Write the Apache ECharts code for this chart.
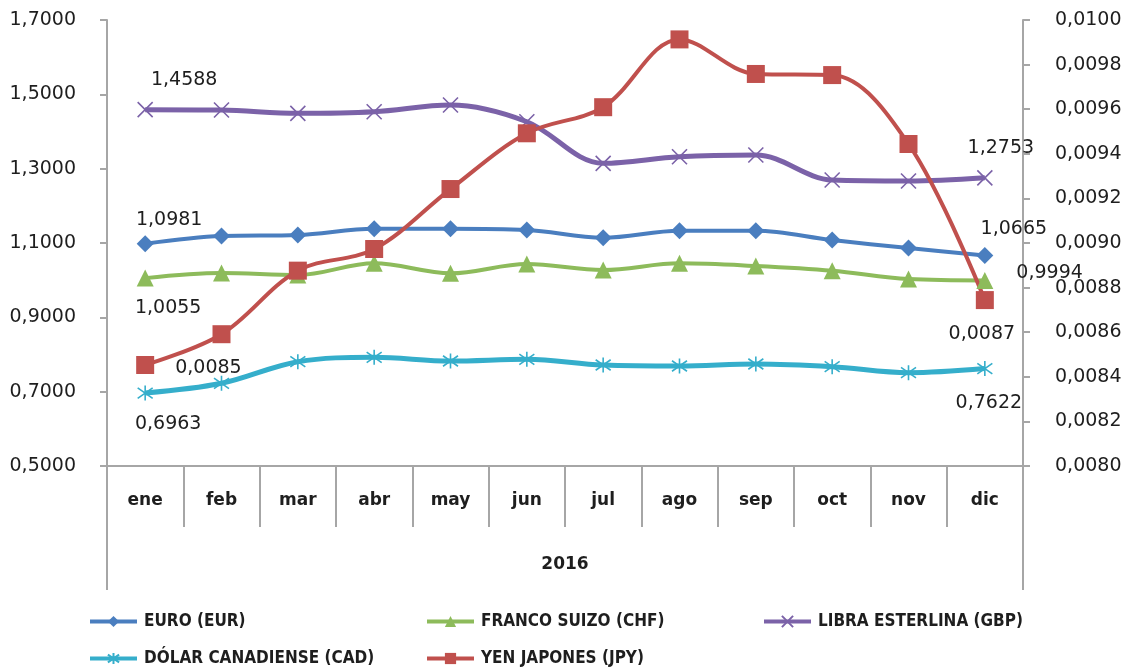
<!DOCTYPE html>
<html>
<head>
<meta charset="utf-8">
<script src="https://cdn.jsdelivr.net/npm/echarts@6/dist/echarts.min.js"></script>
<style>
  html, body { margin: 0; padding: 0; background: #fff; }
  #main { width: 1136px; height: 669px; }
</style>
</head>
<body>
<div id="main"></div>
<script>
// meses 2016
const meses = ['ene', 'feb', 'mar', 'abr', 'may', 'jun', 'jul', 'ago', 'sep', 'oct', 'nov', 'dic'];
// eje izquierdo
const eur = [1.0981, 1.1188, 1.1215, 1.1384, 1.1384, 1.1349, 1.1142, 1.1330, 1.1330, 1.1080, 1.0865, 1.0665];
const chf = [1.0055, 1.0192, 1.0138, 1.0453, 1.0184, 1.0435, 1.0273, 1.0453, 1.0381, 1.0254, 1.0030, 0.9994];
const gbp = [1.4588, 1.4578, 1.4489, 1.4532, 1.4712, 1.4263, 1.3144, 1.3321, 1.3367, 1.2694, 1.2667, 1.2753];
const cad = [0.6963, 0.7225, 0.7806, 0.7924, 0.7825, 0.7871, 0.7717, 0.7690, 0.7744, 0.7672, 0.7510, 0.7622];
// eje derecho
const jpy = [0.008453, 0.008591, 0.008876, 0.008973, 0.009242, 0.009492, 0.009609, 0.009913, 0.009758, 0.009753, 0.009444, 0.008744];

const G = { left: 107, right: 113, top: 20, bottom: 203 };
const W = 1136, H = 669;
const txt = '#1e1e1e';
const axisGrey = '#A6A6A6';

function fmt(v) {
    return Number(v).toFixed(4).replace('.', ',');
}

// etiqueta solo en el primer y el ultimo punto
function withLabels(values, first, last) {
    return values.map((v, i) => {
        if (i === 0) return { value: v, label: Object.assign({ show: true }, first) };
        if (i === values.length - 1) return { value: v, label: Object.assign({ show: true }, last) };
        return v;
    });
}

const labelBase = {
    show: false,
    color: txt,
    fontFamily: 'DejaVu Sans',
    fontSize: 19,
    formatter: p => fmt(p.value)
};

function serie(name, data, color, symbol, size, width, yIndex, extra) {
    return Object.assign({
        name: name,
        type: 'line',
        yAxisIndex: yIndex,
        smooth: 0.35,
        data: data,
        symbol: symbol,
        symbolSize: size,
        lineStyle: { color: color, width: width },
        itemStyle: { color: color },
        label: labelBase
    }, extra || {});
}

const crossPath = 'path://M0,0L10,10M10,0L0,10';
const starPath = 'path://M5,0L5,10M0,1.5L10,8.5M10,1.5L0,8.5';

const series = [
    serie('EURO (EUR)', withLabels(eur,
        { position: 'top', distance: 6, offset: [24, 0] },
        { position: 'top', distance: 8, offset: [29, 0] }),
        '#4A7EBF', 'diamond', 17, 4, 0),
    serie('FRANCO SUIZO (CHF)', withLabels(chf,
        { position: 'bottom', distance: 12, offset: [23, 0] },
        { position: 'right', distance: 23, offset: [0, -7] }),
        '#8DBB5B', 'triangle', 17, 4, 0),
    serie('LIBRA ESTERLINA (GBP)', withLabels(gbp,
        { position: 'top', distance: 12, offset: [39, 0] },
        { position: 'top', distance: 12, offset: [16, 0] }),
        '#7B62A8', crossPath, 15, 5, 0,
        { itemStyle: { color: '#7B62A8', borderColor: '#7B62A8', borderWidth: 1.6 } }),
    serie('DÓLAR CANADIENSE (CAD)', withLabels(cad,
        { position: 'bottom', distance: 13, offset: [23, 0] },
        { position: 'bottom', distance: 17, offset: [4, 0] }),
        '#35AECB', starPath, 15, 5, 0,
        { itemStyle: { color: '#35AECB', borderColor: '#35AECB', borderWidth: 1.6 } }),
    serie('YEN JAPONES (JPY)', withLabels(jpy,
        { position: 'right', distance: 21, offset: [0, 3] },
        { position: 'bottom', distance: 15, offset: [-3, 0] }),
        '#C0504D', 'rect', 18, 4, 1)
];

const legendPos = [
    { left: 88, top: 613 },
    { left: 425, top: 613 },
    { left: 762, top: 613 },
    { left: 88, top: 650 },
    { left: 425, top: 650 }
];

const legends = series.map((s, i) => ({
    data: [s.name],
    left: legendPos[i].left,
    top: legendPos[i].top,
    padding: 0,
    itemWidth: 47,
    itemHeight: 14,
    itemGap: 7,
    lineStyle: { width: 4 },
    textStyle: {
        color: txt,
        fontFamily: 'DejaVu Sans Condensed',
        fontWeight: 'bold',
        fontSize: 17,
        padding: [0, 0, 0, 2]
    }
}));

const chart = echarts.init(document.getElementById('main'));
chart.setOption({
    backgroundColor: '#ffffff',
    animation: false,
    grid: G,
    legend: legends,
    xAxis: {
        type: 'category',
        data: meses,
        boundaryGap: true,
        name: '2016',
        nameLocation: 'middle',
        nameGap: 90,
        nameTextStyle: { color: txt, fontFamily: 'DejaVu Sans', fontWeight: 'bold', fontSize: 17 },
        axisLine: { lineStyle: { color: axisGrey, width: 2 } },
        axisTick: { show: true, interval: 0, length: 61, lineStyle: { color: axisGrey, width: 2 } },
        axisLabel: { interval: 0, margin: 26, color: txt, fontFamily: 'DejaVu Sans', fontWeight: 'bold', fontSize: 17 },
        splitLine: { show: false }
    },
    yAxis: [
        {
            type: 'value',
            min: 0.5,
            max: 1.7,
            interval: 0.2,
            position: 'left',
            axisLine: { show: true, lineStyle: { color: axisGrey, width: 2 } },
            axisTick: { show: true, length: 7, lineStyle: { color: axisGrey, width: 2 } },
            axisLabel: { margin: 31, color: txt, fontFamily: 'DejaVu Sans', fontSize: 19, formatter: fmt },
            splitLine: { show: false }
        },
        {
            type: 'value',
            min: 0.008,
            max: 0.010,
            interval: 0.0002,
            position: 'right',
            axisLine: { show: true, lineStyle: { color: axisGrey, width: 2 } },
            axisTick: { show: true, length: 7, lineStyle: { color: axisGrey, width: 2 } },
            axisLabel: { margin: 32, color: txt, fontFamily: 'DejaVu Sans', fontSize: 19, formatter: fmt },
            splitLine: { show: false }
        }
    ],
    // prolongacion de los ejes verticales bajo el eje de categorias
    graphic: [
        { type: 'line', shape: { x1: G.left, y1: H - G.bottom, x2: G.left, y2: 590 },
          style: { stroke: axisGrey, lineWidth: 2 } },
        { type: 'line', shape: { x1: W - G.right, y1: H - G.bottom, x2: W - G.right, y2: 590 },
          style: { stroke: axisGrey, lineWidth: 2 } }
    ],
    series: series
});
</script>
</body>
</html>
